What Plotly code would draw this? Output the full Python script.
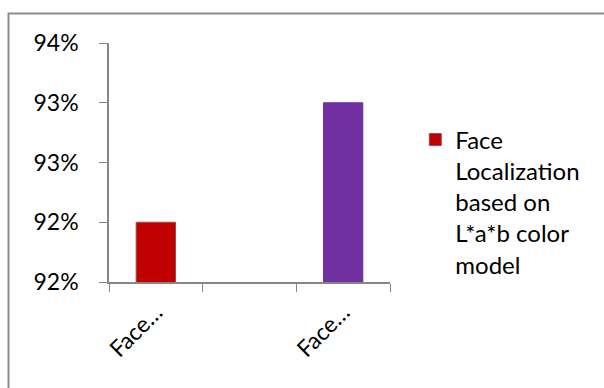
import plotly.graph_objects as go

categories = ["cat1", "cat2", "cat3"]
tick_labels = ["Face…", "", "Face…"]
values = [92.0, None, 93.0]
bar_colors = ["#C00000", "#7F7F7F", "#7030A0"]
border_colors = ["#9E4A4A", "#7F7F7F", "#7030A0"]
series_name = "Face<br>Localization<br>based on<br>L*a*b color<br>model"
y_ticks = [91.5, 92.0, 92.5, 93.0, 93.5]
y_tick_labels = ["92%", "92%", "93%", "93%", "94%"]

FONT = "Lato"
AX = "#868686"

fig = go.Figure()
fig.add_trace(go.Bar(
    x=categories, y=values, name=series_name, width=0.42,
    marker=dict(color=bar_colors, line=dict(color=border_colors, width=1)),
    showlegend=True,
))

fig.update_layout(
    width=604, height=388,
    margin=dict(l=109, r=214, t=43, b=106),
    paper_bgcolor="white", plot_bgcolor="white",
    font=dict(family=FONT, size=22, color="#000000"),
    showlegend=True,
    legend=dict(x=1.09, xanchor="left", y=0.335, yanchor="middle",
                font=dict(family=FONT, size=24, color="#000000"),
                valign="top", bgcolor="rgba(0,0,0,0)", itemclick=False),
    xaxis=dict(type="category", tickvals=categories, ticktext=tick_labels,
               tickangle=-45, showline=True, linecolor=AX, linewidth=1.5,
               ticks="outside", tickson="boundaries", ticklen=8, tickcolor=AX,
               showgrid=False, zeroline=False, range=[-0.5, 2.5],
               ticklabelstandoff=6,
               tickfont=dict(family=FONT, size=23)),
    yaxis=dict(range=[91.5, 93.5], tickvals=y_ticks, ticktext=y_tick_labels,
               showline=True, linecolor=AX, linewidth=1.5, ticks="outside",
               ticklen=8, tickcolor=AX, showgrid=False, zeroline=False,
               ticklabelstandoff=16,
               tickfont=dict(family=FONT, size=23)),
    barmode="overlay",
    shapes=[dict(type="rect", xref="paper", yref="paper",
                 x0=(8.5 - 109) / 281, x1=(640 - 109) / 281,
                 y0=(282 - 420) / 239, y1=(282 - 13.5) / 239,
                 line=dict(color="#8C8C8C", width=2), fillcolor="rgba(0,0,0,0)",
                 layer="below")],
)
fig.write_html("out.html")
